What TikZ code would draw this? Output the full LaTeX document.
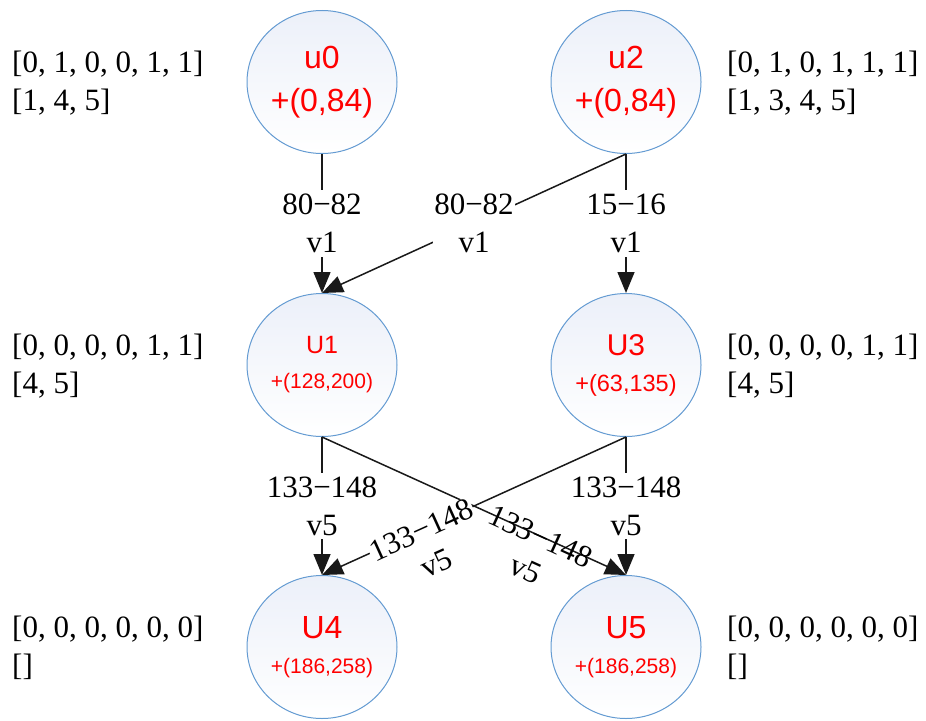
\documentclass[tikz,border=0pt]{standalone}
\usepackage{fontspec}
\setmainfont{Liberation Serif}
\newfontfamily\nodesans{Liberation Sans}
\usetikzlibrary{arrows.meta,positioning,shapes.geometric}

\definecolor{ringblue}{RGB}{100,155,210}
\definecolor{ringtop}{RGB}{236,240,249}

\begin{document}
\begin{tikzpicture}[
  x=1pt, y=-1pt, >={Triangle[length=21pt,width=17pt]},
  font=\fontsize{31}{38}\selectfont,
  uvert/.style={ellipse,draw=ringblue,line width=1pt,top color=ringtop,bottom color=white,
    minimum width=150pt,minimum height=143pt,inner sep=0pt,align=center,text=red},
  big/.style={font=\nodesans\fontsize{32}{43}\selectfont},
  small/.style={font=\nodesans\fontsize{30}{36}\selectfont},
  info/.style={anchor=west,align=left,inner sep=0pt},
  lab/.style={fill=white,align=center,inner sep=4pt},
  edge/.style={->,line width=1.5pt,draw=black!90},
]
\useasboundingbox (0,0) rectangle (926,720);

% vertices
\node[uvert,big]   (u0) at (322,82)  {u0\\+(0,84)};
\node[uvert,big]   (u2) at (626,82)  {u2\\+(0,84)};
\node[uvert,small,font=\nodesans\fontsize{25}{35}\selectfont] (U1) at (322,365) {U1\\{\fontsize{21}{25}\selectfont +(128,200)}};
\node[uvert,small] (U3) at (626,365) {U3\\{\fontsize{23.5}{25}\selectfont +(63,135)}};
\node[uvert,small,font=\nodesans\fontsize{32}{35}\selectfont] (U4) at (322,647) {U4\\{\fontsize{21}{25}\selectfont +(186,258)}};
\node[uvert,small,font=\nodesans\fontsize{32}{35}\selectfont] (U5) at (626,647) {U5\\{\fontsize{21}{25}\selectfont +(186,258)}};

% vectors beside the vertices
\node[info] (u0info) at (12,83)  {[0, 1, 0, 0, 1, 1]\\{}[1, 4, 5]};
\node[info] (u2info) at (727,83) {[0, 1, 0, 1, 1, 1]\\{}[1, 3, 4, 5]};
\node[info] (U1info) at (12,366) {[0, 0, 0, 0, 1, 1]\\{}[4, 5]};
\node[info] (U3info) at (727,366) {[0, 0, 0, 0, 1, 1]\\{}[4, 5]};
\node[info] (U4info) at (12,648) {[0, 0, 0, 0, 0, 0]\\{}[]};
\node[info] (U5info) at (727,648) {[0, 0, 0, 0, 0, 0]\\{}[]};

% edges
\draw[edge] (u0.south) -- node[lab]{80−82\\v1} (U1.north);
\draw[edge] (u2.south) -- node[lab,inner sep=1pt]{80−82\\v1} (U1.north);
\draw[edge] (u2.south) -- node[lab]{15−16\\v1} (U3.north);
\draw[edge] (U1.south) -- node[lab]{133−148\\v5} (U4.north);
\draw[edge] (U3.south) -- node[lab]{133−148\\v5} (U5.north);
\draw[edge] (U1.south) -- node[sloped,pos=.72,inner sep=1pt]{133−148}
  node[sloped,pos=.72,below=22pt]{v5} (U5.north);
\draw[edge] (U3.south) -- node[sloped,pos=.674,fill=white,inner sep=1pt]{133−148}
  node[sloped,pos=.674,below=22pt]{v5} (U4.north);
\end{tikzpicture}
\end{document}
